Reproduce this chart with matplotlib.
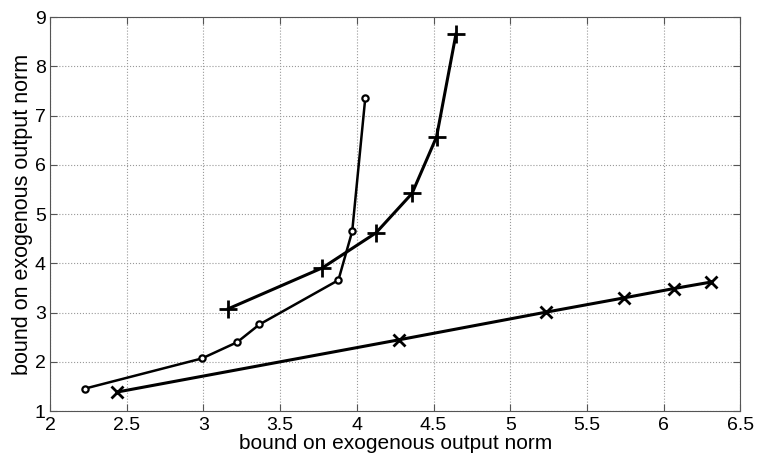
import numpy as np
import matplotlib.pyplot as plt

plt.rcParams['font.family'] = ['Liberation Sans', 'DejaVu Sans']

# circle series
circ_x = [2.23, 2.99, 3.22, 3.365, 3.88, 3.97, 4.055]
circ_y = [1.46, 2.07, 2.40, 2.76, 3.66, 4.65, 7.35]
# plus series
plus_x = [3.163, 3.776, 4.125, 4.36, 4.52, 4.646]
plus_y = [3.08, 3.91, 4.62, 5.42, 6.57, 8.65]
# cross series
cross_x = [2.44, 4.277, 5.233, 5.742, 6.068, 6.307]
cross_y = [1.39, 2.45, 3.01, 3.30, 3.49, 3.62]

xticks = [2, 2.5, 3, 3.5, 4, 4.5, 5, 5.5, 6, 6.5]
xtick_labels = ['2', '2.5', '3', '3.5', '4', '4.5', '5', '5.5', '6', '6.5']
yticks = [1, 2, 3, 4, 5, 6, 7, 8, 9]

fig = plt.figure(figsize=(7.57, 4.62), dpi=100)
ax = fig.add_axes([0.066, 0.11, 0.912, 0.853])

ax.plot(circ_x, circ_y, 'k-', lw=1.8, marker='o', markersize=4.5,
        markerfacecolor='white', markeredgecolor='k', markeredgewidth=1.6)
ax.plot(plus_x, plus_y, 'k-', lw=2.2, marker='+', markersize=13, markeredgewidth=2)
ax.plot(cross_x, cross_y, 'k-', lw=2.2, marker='x', markersize=9, markeredgewidth=2)

ax.set_xlim(2, 6.5)
ax.set_ylim(1, 9)
ax.set_xticks(xticks)
ax.set_xticklabels(xtick_labels)
ax.set_yticks(yticks)
ax.grid(True, linestyle=':', color='#999999', lw=0.8)
ax.tick_params(direction='in', top=True, right=True, labelsize=14, length=5,
               color='#555555', pad=3)
ax.tick_params(axis='x', pad=4)
for s in ax.spines.values():
    s.set_color('#555555')
ax.set_xlabel('bound on exogenous output norm', fontsize=15, labelpad=0)
ax.set_ylabel('bound on exogenous output norm', fontsize=15.5, labelpad=1)

fig.savefig('out.png', dpi=100)
